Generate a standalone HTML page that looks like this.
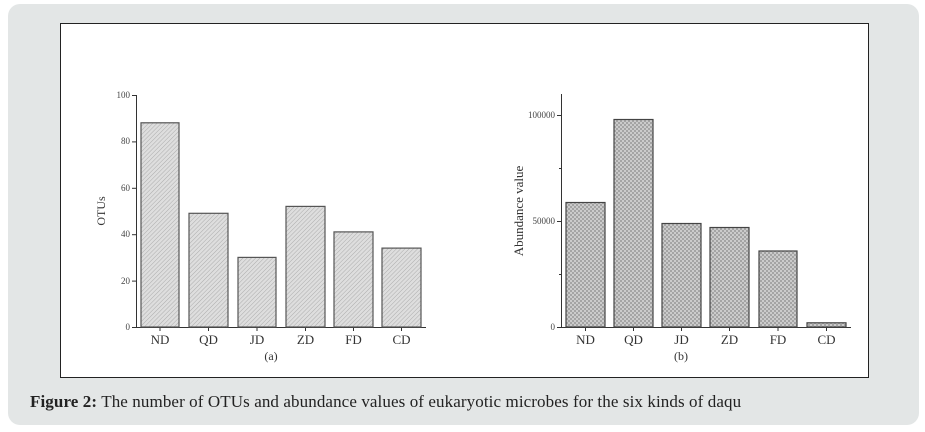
<!DOCTYPE html>
<html><head><style>
html,body{margin:0;padding:0;background:#fff;}
body{width:925px;height:432px;position:relative;overflow:hidden;}
.card{position:absolute;left:8px;top:4px;width:911px;height:421px;background:#e3e6e6;border-radius:12px;}
.cap{position:absolute;left:30px;top:392px;font-family:"Liberation Serif",serif;font-size:17px;color:#222;white-space:nowrap;letter-spacing:0.1px;}
svg{position:absolute;left:0;top:0;}
</style></head><body>
<div class="card"></div>
<svg width="925" height="432" viewBox="0 0 925 432" font-family="Liberation Serif, serif">
<defs>
<pattern id="hatch" width="3" height="3" patternUnits="userSpaceOnUse" patternTransform="rotate(45)">
<rect width="3" height="3" fill="#dedede"/><line x1="0" y1="0" x2="0" y2="3" stroke="#a0a0a0" stroke-width="0.8"/>
</pattern>
<pattern id="grid" width="4" height="4" patternUnits="userSpaceOnUse">
<rect width="4" height="4" fill="#cbcbcb"/><rect width="2" height="2" fill="#a4a4a4"/><rect x="2" y="2" width="2" height="2" fill="#a4a4a4"/>
</pattern>
</defs>
<rect x="60.5" y="23.5" width="808" height="354" fill="#fff" stroke="#222" stroke-width="1"/>
<g stroke="#333" stroke-width="1" fill="none">
<line x1="136.5" y1="95" x2="136.5" y2="327"/>
<line x1="136" y1="327.5" x2="426" y2="327.5"/>
</g>
<g stroke="#333" stroke-width="1">
<line x1="132" y1="95.5" x2="136" y2="95.5"/><line x1="132" y1="141.9" x2="136" y2="141.9"/>
<line x1="132" y1="188.3" x2="136" y2="188.3"/><line x1="132" y1="234.7" x2="136" y2="234.7"/>
<line x1="132" y1="281.1" x2="136" y2="281.1"/><line x1="132" y1="327.5" x2="136" y2="327.5"/>
<line x1="160" y1="327" x2="160" y2="331"/><line x1="208.5" y1="327" x2="208.5" y2="331"/>
<line x1="257" y1="327" x2="257" y2="331"/><line x1="305.5" y1="327" x2="305.5" y2="331"/>
<line x1="353.5" y1="327" x2="353.5" y2="331"/><line x1="401.5" y1="327" x2="401.5" y2="331"/>
</g>
<g font-size="9" fill="#444" text-anchor="end">
<text x="130" y="98">100</text><text x="130" y="144">80</text><text x="130" y="191">60</text>
<text x="130" y="237">40</text><text x="130" y="284">20</text><text x="130" y="330">0</text>
</g>
<text transform="translate(105,211) rotate(-90)" font-size="12" fill="#333" text-anchor="middle">OTUs</text>
<g fill="url(#hatch)" stroke="#555" stroke-width="1.2">
<rect x="141" y="122.8" width="38" height="204.2"/>
<rect x="189" y="213.3" width="39" height="113.7"/>
<rect x="238" y="257.4" width="38" height="69.6"/>
<rect x="286" y="206.4" width="39" height="120.6"/>
<rect x="334" y="231.9" width="39" height="95.1"/>
<rect x="382" y="248.1" width="39" height="78.9"/>
</g>
<g font-size="13" fill="#333" text-anchor="middle">
<text x="160" y="344">ND</text><text x="208.5" y="344">QD</text><text x="257" y="344">JD</text>
<text x="305.5" y="344">ZD</text><text x="353.5" y="344">FD</text><text x="401.5" y="344">CD</text>
<text x="271" y="360" font-size="12">(a)</text>
</g>
<g stroke="#333" stroke-width="1" fill="none">
<line x1="561.5" y1="94" x2="561.5" y2="327"/>
<line x1="561" y1="327.5" x2="851" y2="327.5"/>
</g>
<g stroke="#333" stroke-width="1">
<line x1="557" y1="115.5" x2="561" y2="115.5"/><line x1="559" y1="168.5" x2="561" y2="168.5"/>
<line x1="557" y1="221.5" x2="561" y2="221.5"/><line x1="559" y1="274.5" x2="561" y2="274.5"/>
<line x1="557" y1="327.5" x2="561" y2="327.5"/>
<line x1="585.5" y1="327" x2="585.5" y2="331"/><line x1="633.5" y1="327" x2="633.5" y2="331"/>
<line x1="681.5" y1="327" x2="681.5" y2="331"/><line x1="729.5" y1="327" x2="729.5" y2="331"/>
<line x1="778" y1="327" x2="778" y2="331"/><line x1="826.5" y1="327" x2="826.5" y2="331"/>
</g>
<g font-size="9" fill="#444" text-anchor="end">
<text x="555" y="118">100000</text><text x="555" y="224">50000</text><text x="555" y="330">0</text>
</g>
<text transform="translate(523,211) rotate(-90)" font-size="13" fill="#333" text-anchor="middle">Abundance value</text>
<g fill="url(#grid)" stroke="#444" stroke-width="1.2">
<rect x="566" y="202.5" width="39" height="124.5"/>
<rect x="614" y="119.5" width="39" height="207.5"/>
<rect x="662" y="223.5" width="39" height="103.5"/>
<rect x="710" y="227.5" width="39" height="99.5"/>
<rect x="759" y="251" width="38" height="76"/>
<rect x="807" y="322.8" width="39" height="4.2"/>
</g>
<g font-size="13" fill="#333" text-anchor="middle">
<text x="585.5" y="344">ND</text><text x="633.5" y="344">QD</text><text x="681.5" y="344">JD</text>
<text x="729.5" y="344">ZD</text><text x="778" y="344">FD</text><text x="826.5" y="344">CD</text>
<text x="681" y="360" font-size="12">(b)</text>
</g>
</svg>
<div class="cap"><b>Figure 2:</b> The number of OTUs and abundance values of eukaryotic microbes for the six kinds of daqu</div>
</body></html>
